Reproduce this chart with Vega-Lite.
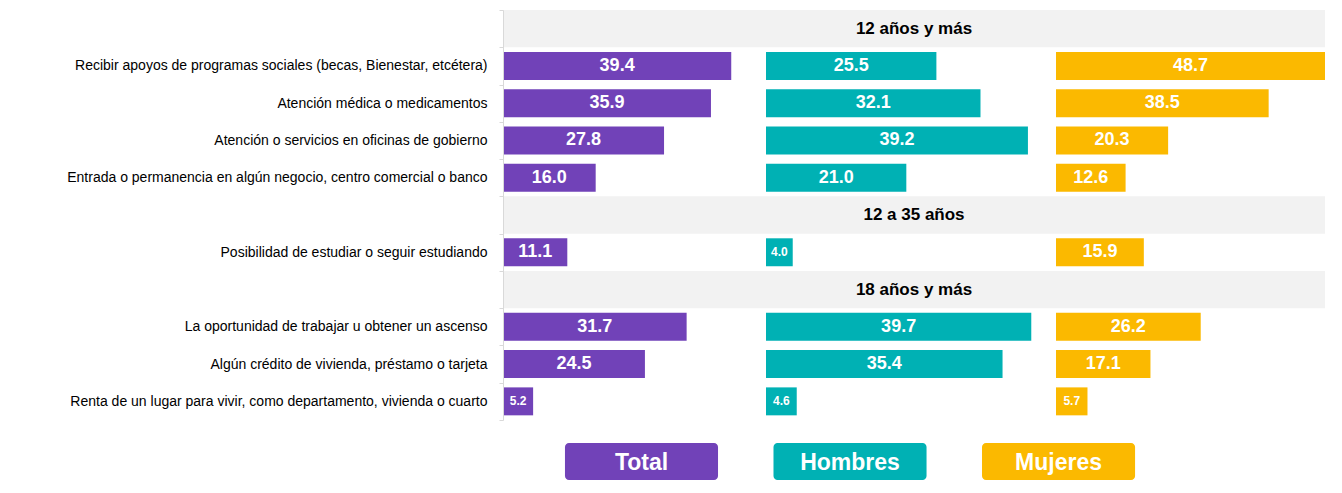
{
  "$schema": "https://vega.github.io/schema/vega-lite/v6.json",
  "padding": {"left": 66, "top": 3, "right": 16, "bottom": 13},
  "background": "white",
  "spacing": 22,
  "datasets": {
    "headers": [
      {"item": "12 años y más"},
      {"item": "12 a 35 años"},
      {"item": "18 años y más"}
    ],
    "legend": [
      {"serie": "Total"},
      {"serie": "Hombres"},
      {"serie": "Mujeres"}
    ],
    "bars": [
      {"item": "Recibir apoyos de programas sociales (becas, Bienestar, etcétera)", "serie": "Total", "v": 39.4},
      {"item": "Atención médica o medicamentos", "serie": "Total", "v": 35.9},
      {"item": "Atención o servicios en oficinas de gobierno", "serie": "Total", "v": 27.8},
      {"item": "Entrada o permanencia en algún negocio, centro comercial o banco", "serie": "Total", "v": 16.0},
      {"item": "Posibilidad de estudiar o seguir estudiando", "serie": "Total", "v": 11.1},
      {"item": "La oportunidad de trabajar u obtener un ascenso", "serie": "Total", "v": 31.7},
      {"item": "Algún crédito de vivienda, préstamo o tarjeta", "serie": "Total", "v": 24.5},
      {"item": "Renta de un lugar para vivir, como departamento, vivienda o cuarto", "serie": "Total", "v": 5.2},
      {"item": "Recibir apoyos de programas sociales (becas, Bienestar, etcétera)", "serie": "Hombres", "v": 25.5},
      {"item": "Atención médica o medicamentos", "serie": "Hombres", "v": 32.1},
      {"item": "Atención o servicios en oficinas de gobierno", "serie": "Hombres", "v": 39.2},
      {"item": "Entrada o permanencia en algún negocio, centro comercial o banco", "serie": "Hombres", "v": 21.0},
      {"item": "Posibilidad de estudiar o seguir estudiando", "serie": "Hombres", "v": 4.0},
      {"item": "La oportunidad de trabajar u obtener un ascenso", "serie": "Hombres", "v": 39.7},
      {"item": "Algún crédito de vivienda, préstamo o tarjeta", "serie": "Hombres", "v": 35.4},
      {"item": "Renta de un lugar para vivir, como departamento, vivienda o cuarto", "serie": "Hombres", "v": 4.6},
      {"item": "Recibir apoyos de programas sociales (becas, Bienestar, etcétera)", "serie": "Mujeres", "v": 48.7},
      {"item": "Atención médica o medicamentos", "serie": "Mujeres", "v": 38.5},
      {"item": "Atención o servicios en oficinas de gobierno", "serie": "Mujeres", "v": 20.3},
      {"item": "Entrada o permanencia en algún negocio, centro comercial o banco", "serie": "Mujeres", "v": 12.6},
      {"item": "Posibilidad de estudiar o seguir estudiando", "serie": "Mujeres", "v": 15.9},
      {"item": "La oportunidad de trabajar u obtener un ascenso", "serie": "Mujeres", "v": 26.2},
      {"item": "Algún crédito de vivienda, préstamo o tarjeta", "serie": "Mujeres", "v": 17.1},
      {"item": "Renta de un lugar para vivir, como departamento, vivienda o cuarto", "serie": "Mujeres", "v": 5.7}
    ]
  },
  "vconcat": [
    {
      "spacing": 0,
      "resolve": {"scale": {"x": "independent"}},
      "hconcat": [
        {
          "width": 263,
          "height": 410,
          "layer": [
            {
              "data": {"name": "headers"},
              "mark": {"type": "rect", "color": "#f2f2f2", "x2Offset": 1},
              "encoding": {
                "y": {"field": "item", "type": "nominal", "title": null,
                  "scale": {"domain": ["12 años y más", "Recibir apoyos de programas sociales (becas, Bienestar, etcétera)", "Atención médica o medicamentos", "Atención o servicios en oficinas de gobierno", "Entrada o permanencia en algún negocio, centro comercial o banco", "12 a 35 años", "Posibilidad de estudiar o seguir estudiando", "18 años y más", "La oportunidad de trabajar u obtener un ascenso", "Algún crédito de vivienda, préstamo o tarjeta", "Renta de un lugar para vivir, como departamento, vivienda o cuarto"], "paddingInner": 0, "paddingOuter": 0},
                  "axis": {"labelExpr": "indexof(['12 años y más','12 a 35 años','18 años y más'], datum.value) >= 0 ? '' : datum.value", "tickBand": "extent", "tickSize": 4, "tickColor": "#d9d9d9", "domainColor": "#d9d9d9", "labelPadding": 12, "labelLimit": 700, "labelFontSize": 14, "labelFont": "Liberation Sans", "labelColor": "#000000", "title": null, "minExtent": 433, "maxExtent": 433}
                }
              }
            },
            {
              "data": {"name": "bars"},
              "transform": [{"filter": "datum.serie === 'Total'"}],
              "mark": {"type": "bar", "height": {"band": 0.75}},
              "encoding": {
                "y": {"field": "item", "type": "nominal"},
                "x": {"field": "v", "type": "quantitative", "scale": {"domain": [0, 45.4], "nice": false}, "axis": null},
                "color": {"field": "serie", "type": "nominal", "scale": {"domain": ["Total", "Hombres", "Mujeres"], "range": ["#7142b8", "#00b1b4", "#fbb900"]}, "legend": null}
              }
            },
            {
              "data": {"name": "bars"},
              "transform": [{"filter": "datum.serie === 'Total'"}],
              "mark": {"type": "text", "color": "white", "fontWeight": "bold", "font": "Liberation Sans", "baseline": "middle", "align": "center"},
              "encoding": {
                "y": {"field": "item", "type": "nominal"},
                "x": {"field": "v", "type": "quantitative", "stack": "zero", "bandPosition": 0.5, "scale": {"domain": [0, 45.4], "nice": false}, "axis": null},
                "text": {"field": "v", "type": "quantitative", "format": ".1f"},
                "size": {"condition": {"test": "datum.v < 10", "value": 12}, "value": 18}
              }
            }
          ]
        },
        {
          "width": 290,
          "height": 410,
          "layer": [
            {
              "data": {"name": "headers"},
              "mark": {"type": "rect", "color": "#f2f2f2", "x2Offset": 1},
              "encoding": {
                "y": {"field": "item", "type": "nominal", "axis": null,
                  "scale": {"domain": ["12 años y más", "Recibir apoyos de programas sociales (becas, Bienestar, etcétera)", "Atención médica o medicamentos", "Atención o servicios en oficinas de gobierno", "Entrada o permanencia en algún negocio, centro comercial o banco", "12 a 35 años", "Posibilidad de estudiar o seguir estudiando", "18 años y más", "La oportunidad de trabajar u obtener un ascenso", "Algún crédito de vivienda, préstamo o tarjeta", "Renta de un lugar para vivir, como departamento, vivienda o cuarto"], "paddingInner": 0, "paddingOuter": 0}
                }
              }
            },
            {
              "data": {"name": "headers"},
              "mark": {"type": "text", "color": "#000000", "fontWeight": "bold", "font": "Liberation Sans", "fontSize": 17, "baseline": "middle", "align": "center", "dx": 3},
              "encoding": {
                "y": {"field": "item", "type": "nominal", "axis": null},
                "text": {"field": "item"}
              }
            },
            {
              "data": {"name": "bars"},
              "transform": [{"filter": "datum.serie === 'Hombres'"}],
              "mark": {"type": "bar", "height": {"band": 0.75}},
              "encoding": {
                "y": {"field": "item", "type": "nominal", "axis": null},
                "x": {"field": "v", "type": "quantitative", "scale": {"domain": [0, 43.4], "nice": false}, "axis": null},
                "color": {"field": "serie", "type": "nominal", "scale": {"domain": ["Total", "Hombres", "Mujeres"], "range": ["#7142b8", "#00b1b4", "#fbb900"]}, "legend": null}
              }
            },
            {
              "data": {"name": "bars"},
              "transform": [{"filter": "datum.serie === 'Hombres'"}],
              "mark": {"type": "text", "color": "white", "fontWeight": "bold", "font": "Liberation Sans", "baseline": "middle", "align": "center"},
              "encoding": {
                "y": {"field": "item", "type": "nominal", "axis": null},
                "x": {"field": "v", "type": "quantitative", "stack": "zero", "bandPosition": 0.5, "scale": {"domain": [0, 43.4], "nice": false}, "axis": null},
                "text": {"field": "v", "type": "quantitative", "format": ".1f"},
                "size": {"condition": {"test": "datum.v < 10", "value": 12}, "value": 18}
              }
            }
          ]
        },
        {
          "width": 269,
          "height": 410,
          "layer": [
            {
              "data": {"name": "headers"},
              "mark": {"type": "rect", "color": "#f2f2f2"},
              "encoding": {
                "y": {"field": "item", "type": "nominal", "axis": null,
                  "scale": {"domain": ["12 años y más", "Recibir apoyos de programas sociales (becas, Bienestar, etcétera)", "Atención médica o medicamentos", "Atención o servicios en oficinas de gobierno", "Entrada o permanencia en algún negocio, centro comercial o banco", "12 a 35 años", "Posibilidad de estudiar o seguir estudiando", "18 años y más", "La oportunidad de trabajar u obtener un ascenso", "Algún crédito de vivienda, préstamo o tarjeta", "Renta de un lugar para vivir, como departamento, vivienda o cuarto"], "paddingInner": 0, "paddingOuter": 0}
                }
              }
            },
            {
              "data": {"name": "bars"},
              "transform": [{"filter": "datum.serie === 'Mujeres'"}],
              "mark": {"type": "bar", "height": {"band": 0.75}},
              "encoding": {
                "y": {"field": "item", "type": "nominal", "axis": null},
                "x": {"field": "v", "type": "quantitative", "scale": {"domain": [0, 48.7], "nice": false}, "axis": null},
                "color": {"field": "serie", "type": "nominal", "scale": {"domain": ["Total", "Hombres", "Mujeres"], "range": ["#7142b8", "#00b1b4", "#fbb900"]}, "legend": null}
              }
            },
            {
              "data": {"name": "bars"},
              "transform": [{"filter": "datum.serie === 'Mujeres'"}],
              "mark": {"type": "text", "color": "white", "fontWeight": "bold", "font": "Liberation Sans", "baseline": "middle", "align": "center"},
              "encoding": {
                "y": {"field": "item", "type": "nominal", "axis": null},
                "x": {"field": "v", "type": "quantitative", "stack": "zero", "bandPosition": 0.5, "scale": {"domain": [0, 48.7], "nice": false}, "axis": null},
                "text": {"field": "v", "type": "quantitative", "format": ".1f"},
                "size": {"condition": {"test": "datum.v < 10", "value": 12}, "value": 18}
              }
            }
          ]
        }
      ]
    },
    {
      "width": 822,
      "height": 37,
      "data": {"name": "legend"},
      "encoding": {
        "x": {"field": "serie", "type": "nominal", "scale": {"domain": ["Total", "Hombres", "Mujeres"], "paddingInner": 0.266, "paddingOuter": 0.604, "align": 0.246}, "axis": null},
        "y": {"datum": "leyenda", "type": "nominal", "scale": {"paddingInner": 0, "paddingOuter": 0}, "axis": {"labels": false, "ticks": false, "domain": false, "title": null, "minExtent": 433, "maxExtent": 433}}
      },
      "layer": [
        {
          "mark": {"type": "rect", "cornerRadius": 4},
          "encoding": {
            "color": {"field": "serie", "type": "nominal", "scale": {"domain": ["Total", "Hombres", "Mujeres"], "range": ["#7142b8", "#00b1b4", "#fbb900"]}, "legend": null}
          }
        },
        {
          "mark": {"type": "text", "color": "white", "fontWeight": "bold", "font": "Liberation Sans", "fontSize": 23, "baseline": "middle", "align": "center", "dy": 1},
          "encoding": {"text": {"field": "serie"}}
        }
      ]
    }
  ],
  "config": {"view": {"stroke": null}, "font": "Liberation Sans"}
}
